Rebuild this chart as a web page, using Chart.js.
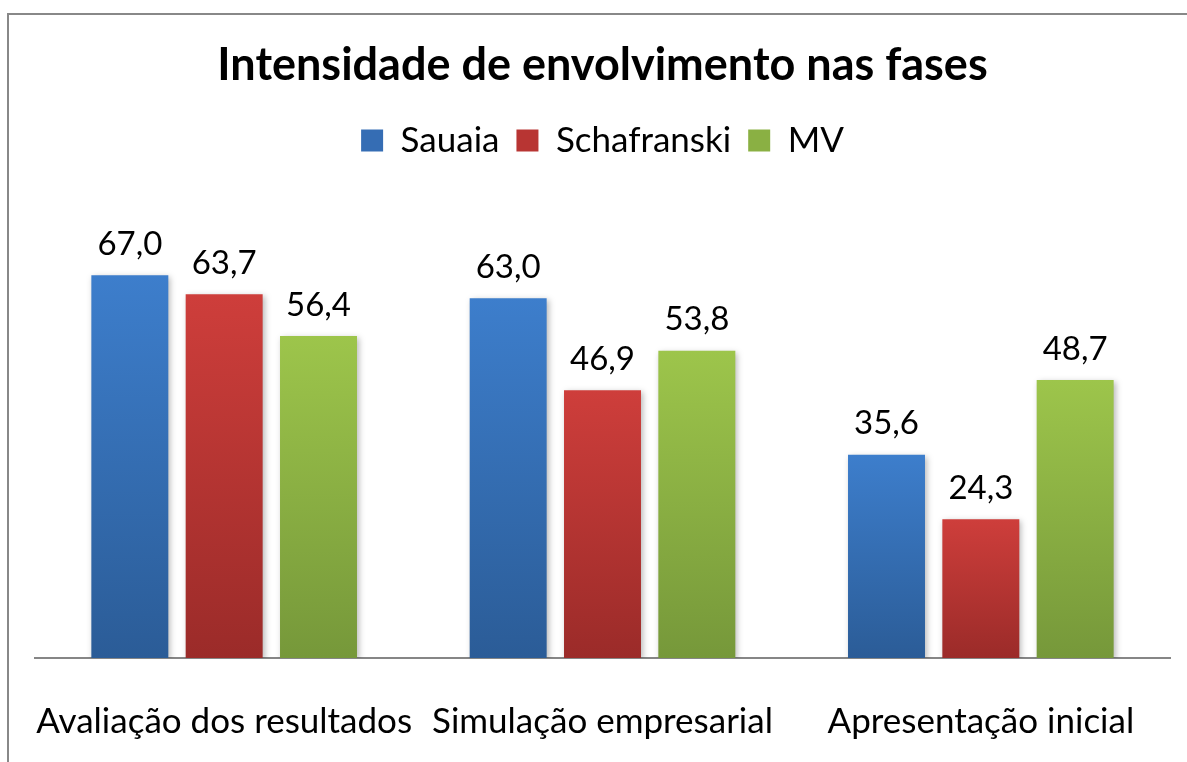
<!DOCTYPE html>
<html>
<head>
<meta charset="utf-8">
<script src="https://cdn.jsdelivr.net/npm/chart.js@4.4.1/dist/chart.umd.min.js"></script>
<style>
  html, body { margin: 0; padding: 0; background: #fff; overflow: hidden; }
  #wrap { position: relative; width: 1187px; height: 762px; }
  #frame { position: absolute; left: 7px; top: 13px; width: 1300px; height: 900px; border: 2px solid #888; }
  #chart { position: absolute; left: 0; top: 0; }
</style>
</head>
<body>
<div id="wrap">
  <div id="frame"></div>
  <canvas id="chart" width="1187" height="762"></canvas>
</div>
<script>
// --- Data ---
const categories = ['Avaliação dos resultados', 'Simulação empresarial', 'Apresentação inicial'];
const seriesNames = ['Sauaia', 'Schafranski', 'MV'];
const sauaia = [67.0, 63.0, 35.6];
const schafranski = [63.7, 46.9, 24.3];
const mv = [56.4, 53.8, 48.7];

// top / bottom gradient colours per series
const topColors = ['#3D7ECC', '#CE3E3B', '#9DC54B'];
const bottomColors = ['#2B5C97', '#9B2B29', '#76983A'];
const legendColors = ['#356DB4', '#B83533', '#8AB043'];

const FONT = 'Lato, Carlito, "Open Sans", sans-serif';

function barGradient(i) {
    return function(ctx) {
        const chart = ctx.chart;
        if (!chart.chartArea || ctx.raw === undefined) return legendColors[i];
        const y = chart.scales.y;
        const top = y.getPixelForValue(ctx.raw);
        const bottom = y.getPixelForValue(0);
        const g = chart.ctx.createLinearGradient(0, top, 0, bottom);
        g.addColorStop(0, topColors[i]);
        g.addColorStop(1, bottomColors[i]);
        return g;
    };
}

// bar shadows
const shadowPlugin = {
    id: 'barShadow',
    beforeDatasetsDraw(chart) {
        const c = chart.ctx;
        c.save();
        c.shadowColor = 'rgba(0,0,0,0.28)';
        c.shadowBlur = 6;
        c.shadowOffsetX = 2;
        c.shadowOffsetY = 2;
    },
    afterDatasetsDraw(chart) {
        chart.ctx.restore();
    }
};

// value labels above bars
const valueLabels = {
    id: 'valueLabels',
    afterDatasetsDraw(chart) {
        const c = chart.ctx;
        c.save();
        c.font = '33px ' + FONT;
        c.fillStyle = '#000';
        c.textAlign = 'center';
        c.textBaseline = 'middle';
        chart.data.datasets.forEach((ds, di) => {
            const meta = chart.getDatasetMeta(di);
            meta.data.forEach((bar, idx) => {
                const txt = ds.data[idx].toFixed(1).replace('.', ',');
                c.fillText(txt, bar.x, bar.y - 31);
            });
        });
        c.restore();
    }
};

const seriesData = [sauaia, schafranski, mv];

new Chart(document.getElementById('chart'), {
    type: 'bar',
    data: {
        labels: categories,
        datasets: seriesNames.map((name, i) => ({
            label: name,
            data: seriesData[i],
            backgroundColor: barGradient(i),
            borderWidth: 0,
            categoryPercentage: 0.748,
            barPercentage: 0.816
        }))
    },
    options: {
        responsive: false,
        animation: false,
        layout: { padding: { left: 35, right: 17, top: 0, bottom: 0 } },
        plugins: {
            title: {
                display: true,
                text: 'Intensidade de envolvimento nas fases',
                color: '#000',
                font: { family: FONT, size: 45, weight: 'bold', lineHeight: 1.2 },
                padding: { top: 38, bottom: 14 }
            },
            legend: {
                display: true,
                labels: {
                    color: '#000',
                    font: { family: FONT, size: 35 },
                    boxWidth: 22,
                    boxHeight: 22,
                    padding: 17,
                    generateLabels(chart) {
                        return chart.data.datasets.map((ds, i) => ({
                            text: ds.label,
                            fillStyle: legendColors[i],
                            strokeStyle: legendColors[i],
                            lineWidth: 0,
                            datasetIndex: i,
                            fontColor: '#000'
                        }));
                    }
                }
            },
            tooltip: { enabled: false }
        },
        scales: {
            x: {
                grid: { display: false },
                border: { display: true, color: '#868686', width: 2 },
                ticks: {
                    color: '#000',
                    font: { family: FONT, size: 35 },
                    padding: 35,
                    maxRotation: 0,
                    autoSkip: false
                },
                afterFit(scale) {
                    scale.height = 104;
                    scale.paddingLeft = 0;
                    scale.paddingRight = 0;
                }
            },
            y: {
                display: false,
                min: 0,
                max: 85.8
            }
        }
    },
    plugins: [shadowPlugin, valueLabels]
});
</script>
</body>
</html>
